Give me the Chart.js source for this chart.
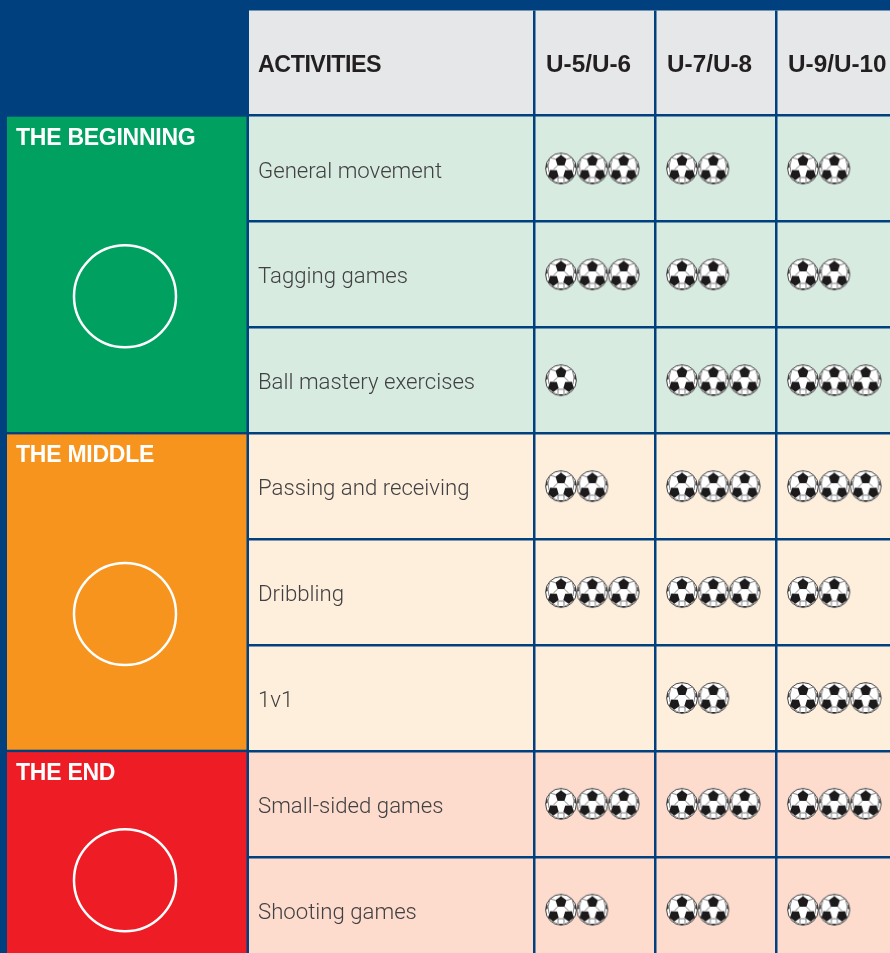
<!DOCTYPE html>
<html>
<head>
<meta charset="utf-8">
<script src="https://cdn.jsdelivr.net/npm/chart.js@4"></script>
<style>
  html, body { margin: 0; padding: 0; background: #00407f; overflow: hidden; }
  canvas { display: block; }
</style>
</head>
<body>
<canvas id="activity-chart" width="890" height="953"></canvas>
<script>
const activities = ["General movement", "Tagging games", "Ball mastery exercises", "Passing and receiving",
    "Dribbling", "1v1", "Small-sided games", "Shooting games"];
const ageGroups = ["U-5/U-6", "U-7/U-8", "U-9/U-10"];
const ballsU56 = [3, 3, 1, 2, 3, 0, 3, 2];
const ballsU78 = [2, 2, 3, 3, 3, 2, 3, 2];
const ballsU910 = [2, 2, 3, 3, 2, 3, 3, 2];
const sectionNames = ["THE BEGINNING", "THE MIDDLE", "THE END"];
const sectionFirstRow = [0, 3, 6];
const sectionRowCount = [3, 3, 2];
const sectionColors = ["#00a160", "#f7941d", "#ee1c25"];
const sectionTints = ["#d7ebe1", "#feeedc", "#fddcce"];
const circleDrop = [22, 22, 23.5];

const navy = "#00407f";
const boldFont = "'Liberation Sans', Arial, sans-serif";

// Soccer ball used as the point style
function makeBall() {
    const c = document.createElement('canvas');
    c.width = 34;
    c.height = 34;
    const g = c.getContext('2d');
    const r = 15.4;
    g.translate(17, 17);
    g.beginPath();
    g.arc(0, 0, r, 0, Math.PI * 2);
    g.fillStyle = '#fff';
    g.fill();
    g.strokeStyle = '#444';
    g.lineWidth = 1;
    g.stroke();

    g.save();
    g.beginPath();
    g.arc(0, 0, r - 0.4, 0, Math.PI * 2);
    g.clip();
    const pent = (cx, cy, s, rot) => {
        g.beginPath();
        for (let i = 0; i < 5; i++) {
            const a = rot + i * Math.PI * 2 / 5;
            g.lineTo(cx + s * Math.sin(a), cy - s * Math.cos(a));
        }
        g.closePath();
        g.fillStyle = '#1c1a1b';
        g.fill();
    };
    pent(0, -7.6, 5.8, 0);
    pent(-7.6, 6.2, 5.6, -0.6);
    pent(7.6, 6.2, 5.6, 0.6);
    pent(0, 16.8, 3.6, Math.PI);
    pent(-16.2, -3, 3.4, 0.9);
    pent(16.2, -3, 3.4, -0.9);
    g.strokeStyle = '#666';
    g.lineWidth = 0.8;
    const seams = [[0, -13, 0, -15.5], [-5.3, -9.3, -11, -11], [5.3, -9.3, 11, -11], [-3.3, -3, -7.6, 1],
        [3.3, -3, 7.6, 1], [-3, 9, 3, 9], [-3, 9, -3, 14], [3, 9, 3, 14], [-11, -11, -13, -3],
        [11, -11, 13, -3], [-13, -3, -12, 4], [13, -3, 12, 4], [-9, 11.5, -4, 14], [9, 11.5, 4, 14]];
    g.beginPath();
    seams.forEach(s => {
        g.moveTo(s[0], s[1]);
        g.lineTo(s[2], s[3]);
    });
    g.stroke();
    g.restore();
    return c;
}

// One point per ball, inside the cell of its age group
function ballPoints(counts, col) {
    const pts = [];
    counts.forEach((n, row) => {
        for (let k = 0; k < n; k++) {
            pts.push({ x: col + 0.219 + k * 0.259, y: row + 0.5 });
        }
    });
    return pts;
}

const ball = makeBall();
const ballDataset = (label, counts, col) => ({
    label: label,
    data: ballPoints(counts, col),
    pointStyle: ball,
    pointRadius: 16,
    pointHoverRadius: 16
});

// Table backgrounds, left panels and their titles
const tablePlugin = {
    id: 'tablePlugin',
    beforeDraw(chart) {
        const ctx = chart.ctx;
        const y = chart.scales.y;
        ctx.save();
        ctx.fillStyle = navy;
        ctx.fillRect(0, 0, chart.width, chart.height);
        ctx.fillStyle = '#e6e7e8';
        ctx.fillRect(249, 10.5, chart.width - 249, 105);
        sectionNames.forEach((name, i) => {
            const top = y.getPixelForValue(sectionFirstRow[i]);
            const bottom = y.getPixelForValue(sectionFirstRow[i] + sectionRowCount[i]);
            ctx.fillStyle = sectionTints[i];
            ctx.fillRect(249, top, chart.width - 249, bottom - top);
            ctx.fillStyle = sectionColors[i];
            ctx.fillRect(7, top + 1.2, 239.5, bottom - top - 2.4);
        });
        ctx.restore();
    },
    afterDraw(chart) {
        const ctx = chart.ctx;
        const y = chart.scales.y;
        ctx.save();
        ctx.fillStyle = '#231f20';
        ctx.font = "bold 23.3px " + boldFont;
        ctx.letterSpacing = '-0.5px';
        ctx.textBaseline = 'alphabetic';
        ctx.fillText("ACTIVITIES", 258, 72);
        sectionNames.forEach((name, i) => {
            const top = y.getPixelForValue(sectionFirstRow[i]);
            const bottom = y.getPixelForValue(sectionFirstRow[i] + sectionRowCount[i]);
            ctx.fillStyle = '#fff';
            ctx.font = "bold 23px " + boldFont;
            ctx.letterSpacing = '-0.25px';
            ctx.fillText(name, 16, top + 29);
            ctx.strokeStyle = '#fff';
            ctx.lineWidth = 2.5;
            ctx.beginPath();
            ctx.arc(125, (top + bottom) / 2 + circleDrop[i], 51, 0, Math.PI * 2);
            ctx.stroke();
        });
        ctx.restore();
    }
};

// Keep the plot area fixed: no extra room for the outer tick labels
function fitScale(scale, w, h) {
    if (w) scale.width = w;
    if (h) scale.height = h;
    scale.paddingLeft = 0;
    scale.paddingRight = 0;
    scale.paddingTop = 0;
    scale.paddingBottom = 0;
}

new Chart(document.getElementById('activity-chart').getContext('2d'), {
    type: 'scatter',
    data: {
        datasets: [
            ballDataset(ageGroups[0], ballsU56, 0),
            ballDataset(ageGroups[1], ballsU78, 1),
            ballDataset(ageGroups[2], ballsU910, 2)
        ]
    },
    plugins: [tablePlugin],
    options: {
        responsive: false,
        animation: false,
        layout: { autoPadding: false, padding: { left: 258, right: 0, top: 0, bottom: 0 } },
        plugins: { legend: { display: false }, tooltip: { enabled: false } },
        scales: {
            x: {
                type: 'linear',
                position: 'top',
                min: 0,
                max: 355.5 / 121,
                afterFit(scale) { fitScale(scale, 0, 115.5); },
                border: { display: false },
                grid: { color: navy, lineWidth: 2.5, tickLength: 105, tickColor: navy },
                ticks: {
                    stepSize: 1,
                    includeBounds: false,
                    maxRotation: 0,
                    autoSkip: false,
                    align: 'start',
                    labelOffset: 11.5,
                    padding: -69.5,
                    color: '#231f20',
                    font: { family: boldFont, size: 24.3, weight: 'bold' },
                    callback: v => ageGroups[v]
                }
            },
            y: {
                type: 'linear',
                reverse: true,
                min: 0,
                max: 837.5 / 105.9,
                afterFit(scale) { fitScale(scale, 276.5, 0); },
                border: { display: false },
                grid: { color: navy, lineWidth: 2.5, tickLength: 287, tickColor: navy },
                ticks: {
                    stepSize: 1,
                    includeBounds: false,
                    autoSkip: false,
                    crossAlign: 'far',
                    labelOffset: 56.5,
                    color: '#414042',
                    font: { family: 'Roboto', size: 22.2, weight: 300 },
                    callback: v => activities[v]
                }
            }
        }
    }
});
</script>
</body>
</html>
